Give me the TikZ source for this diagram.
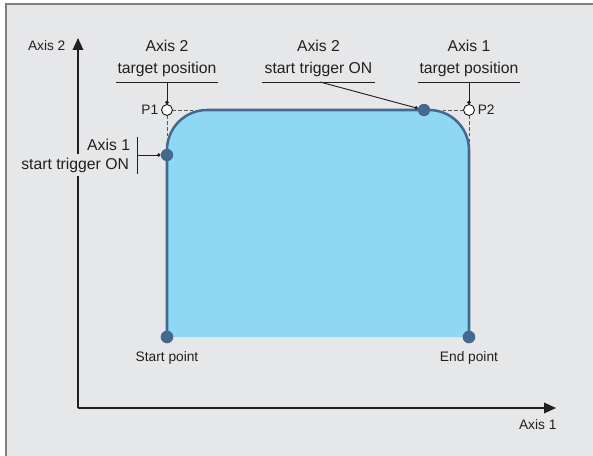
\documentclass[tikz,border=0pt]{standalone}
\usepackage{fontspec}
\setmainfont{Liberation Sans}
\usetikzlibrary{arrows.meta, positioning, calc}

\definecolor{bggray}{HTML}{E6E7E8}
\definecolor{framegray}{HTML}{808080}
\definecolor{pathblue}{HTML}{8ED8F6}
\definecolor{edgeblue}{HTML}{436A8E}
\definecolor{inkgray}{HTML}{231F20}

\begin{document}
\begin{tikzpicture}[x=0.75pt, y=-0.75pt,
    lbl/.style={font=\fontsize{11.8}{16.5}\selectfont, align=center, inner sep=0pt, text=inkgray},
    small/.style={font=\fontsize{10.3}{12}\selectfont, inner sep=1pt, text=inkgray},
    endpt/.style={circle, fill=edgeblue, inner sep=0pt, minimum size=9.5pt},
    trig/.style={circle, fill=edgeblue, inner sep=0pt, minimum size=9.3pt},
    target/.style={circle, draw=black, fill=white, line width=0.6pt, inner sep=0pt, minimum size=8.2pt},
    lead/.style={line width=0.7pt, inkgray},
    leadtip/.style={lead, -{Circle[length=2.6pt]}},
    guide/.style={black!65, line width=0.6pt, dash pattern=on 2.5pt off 1.8pt},
    axis/.style={line width=1pt, inkgray, -{Triangle[length=9pt, width=8pt]}},
    contour/.style={edgeblue, line width=1.9pt, rounded corners=30pt}]
        \useasboundingbox (0,0) rectangle (593,456);
        % Background
        \fill[bggray] (6,4) rectangle (600,460);
        \draw[framegray, line width=1.2pt] (6,460) -- (6,4) -- (600,4);
        % Axes
        \coordinate (O) at (78,408);
        \coordinate (Ytip) at (78,38);
        \coordinate (Xtip) at (556,408);
        \draw[axis] (O) -- (Ytip);
        \draw[axis] (O) -- (Xtip);
        \node[small, anchor=east] (AxisTwo) at (67,46) {Axis 2};
        \node[small, anchor=north east] (AxisOne) at (558,418) {Axis 1};
        % Path
        \coordinate (c1) at (167,110);
        \coordinate (c2) at (469,110);
        \coordinate (s0) at (167,337);
        \coordinate (e0) at (469,337);
        \fill[pathblue, rounded corners=30pt] (s0) -- (c1) -- (c2) -- (e0);
        \draw[guide] (c1) -- ($(c1)+(40,0)$);
        \draw[guide] (c1) -- ($(c1)+(0,40)$);
        \draw[guide] (c2) -- ($(c2)+(-40,0)$);
        \draw[guide] (c2) -- ($(c2)+(0,40)$);
        \draw[contour] (s0) -- (c1) -- (c2) -- (e0);
        % Points
        \node[endpt] (Start) at (s0) {};
        \node[endpt] (End) at (e0) {};
        \node[trig] (TrigOne) at (167,155) {};
        \node[trig] (TrigTwo) at (424,110) {};
        \node[target] (P1) at (c1) {};
        \node[target] (P2) at (c2) {};
        \node[small, left=1pt of P1] (P1lbl) {P1};
        \node[small, right=1pt of P2] (P2lbl) {P2};
        \node[small, below=5pt of Start] (StartLbl) {Start point};
        \node[small, below=5pt of End] (EndLbl) {End point};
        % Labels
        \coordinate (u1) at (167,82);
        \coordinate (u2) at (318.5,82);
        \coordinate (u3) at (469,82);
        \node[lbl, above=4pt of u1] (TargetTwo) {Axis 2\\target position};
        \node[lbl, above=4pt of u2] (StartTwo) {Axis 2\\start trigger ON};
        \node[lbl, above=4pt of u3] (TargetOne) {Axis 1\\target position};
        \draw[lead] ($(u1)+(-51,0)$) -- ($(u1)+(51,0)$);
        \draw[lead] ($(u2)+(-56.5,0)$) -- ($(u2)+(56.5,0)$);
        \draw[lead] ($(u3)+(-51,0)$) -- ($(u3)+(51,0)$);
        \draw[leadtip] (u1) -- (P1);
        \draw[leadtip] (u3) -- (P2);
        \draw[leadtip] (320,82) coordinate (u2a) -- (TrigTwo);
        \coordinate (bar) at (137,155);
        \draw[lead] ($(bar)+(0,-18)$) -- ($(bar)+(0,19)$);
        \draw[leadtip] (bar) -- (TrigOne);
        \node[lbl, anchor=east, left=5pt of bar, yshift=7.5pt] (StartOneA) {Axis 1};
        \node[lbl, anchor=east, fill=bggray, inner sep=2.5pt] (StartOneB) at ($(bar)+(-4.5,10)$) {start trigger ON};
    \end{tikzpicture}
\end{document}
